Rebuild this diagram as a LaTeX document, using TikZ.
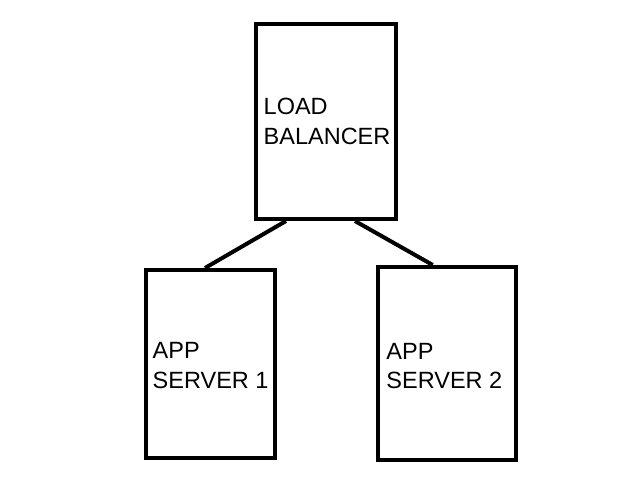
\documentclass[tikz,border=0pt]{standalone}
\usepackage{fontspec}
\setmainfont{Liberation Sans}
\begin{document}
\begin{tikzpicture}[x=1pt, y=-1pt,
  box/.style={rectangle, draw, line width=4pt},
  txt/.style={anchor=west, align=left, inner sep=0pt, font=\fontsize{23.5}{29.5}\selectfont}]

\useasboundingbox (0,0) rectangle (640,480);

\node[box, minimum width=140pt, minimum height=195pt] (LB) at (326,121.5) {};
\node[box, minimum width=129pt, minimum height=188pt] (S1) at (210,364) {};
\node[box, minimum width=137.5pt, minimum height=193pt] (S2) at (447,363.5) {};

\node[txt] (LBtext) at ([xshift=9.5pt]LB.west) {LOAD\\BALANCER};
\node[txt] (S1text) at ([xshift=9pt,yshift=-1.5pt]S1.west) {APP\\SERVER 1};
\node[txt] (S2text) at ([xshift=10pt,yshift=-2.5pt]S2.west) {APP\\SERVER 2};

\draw[line width=4pt] ([xshift=32pt]LB.south west) -- ([xshift=61.5pt]S1.north west);
\draw[line width=4pt] ([xshift=101pt]LB.south west) -- ([xshift=56.5pt]S2.north west);

\end{tikzpicture}
\end{document}
